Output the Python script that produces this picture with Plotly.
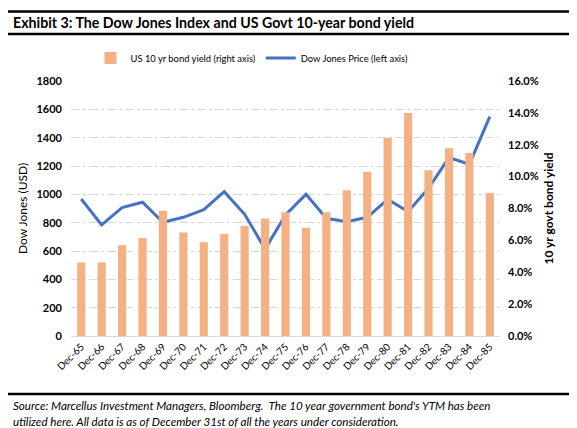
import plotly.graph_objects as go

categories = ["Dec-65", "Dec-66", "Dec-67", "Dec-68", "Dec-69", "Dec-70", "Dec-71",
              "Dec-72", "Dec-73", "Dec-74", "Dec-75", "Dec-76", "Dec-77", "Dec-78",
              "Dec-79", "Dec-80", "Dec-81", "Dec-82", "Dec-83", "Dec-84", "Dec-85"]
bond_yield = [0.0462, 0.0462, 0.0569, 0.0615, 0.0786, 0.0649, 0.0588,
              0.0640, 0.0690, 0.0738, 0.0776, 0.0680, 0.0776, 0.0914,
              0.1031, 0.1243, 0.1399, 0.1040, 0.1178, 0.1149, 0.0897]
dow_price = [967, 784, 906, 944, 803, 838, 892,
             1019, 859, 614, 854, 1000, 831, 807,
             838, 965, 878, 1043, 1259, 1212, 1549]

W, H = 577, 428
L, R, T, B = 63, 492, 73, 328
pw, ph = R - L, B - T


def px(x):
    return (x - L) / pw


def py(y):
    return (B - y) / ph


FONT = "Lato"

fig = go.Figure()
fig.add_trace(go.Bar(
    x=categories, y=bond_yield, name="US 10 yr bond yield (right axis)",
    marker=dict(color="#F4B183", line=dict(width=0)), yaxis="y2",
))
fig.add_trace(go.Scatter(
    x=categories, y=dow_price, name="Dow Jones Price (left axis)",
    mode="lines", line=dict(color="#4472C4", width=3), yaxis="y",
))

fig.update_layout(
    width=W, height=H,
    margin=dict(l=L, r=W - R, t=T, b=H - B, pad=0),
    paper_bgcolor="white", plot_bgcolor="white",
    font=dict(family=FONT, size=11, color="black"),
    bargap=0.6,
    showlegend=True,
    legend=dict(orientation="h", x=px(244), xanchor="center", y=py(50), yanchor="middle",
                font=dict(family=FONT, size=9.4), traceorder="normal",
                itemwidth=30, bgcolor="rgba(0,0,0,0)"),
    xaxis=dict(type="category", tickangle=-45, tickfont=dict(family=FONT, size=10),
               showgrid=False, showline=True, linecolor="#D9D9D9", linewidth=1,
               ticks="", zeroline=False),
    yaxis=dict(range=[0, 1800], dtick=200, tickfont=dict(family=FONT, size=11, weight="bold"),
               showgrid=True, gridcolor="#D9D9D9", griddash="dashdot", gridwidth=1,
               zeroline=False, showline=False, ticks="", ticklabelstandoff=8,
               title=dict(text="Dow Jones (USD)", font=dict(family=FONT, size=12), standoff=6)),
    yaxis2=dict(range=[0, 0.16], dtick=0.02, tickformat=".1%", overlaying="y", side="right",
                tickfont=dict(family=FONT, size=11, weight="bold"),
                showgrid=False, zeroline=False, showline=False, ticks="", ticklabelstandoff=7,
                title=dict(text="10 yr govt bond yield", font=dict(family=FONT, size=12, weight="bold"),
                           standoff=6)),
)

# decorative rules
for y0, w in [(3.5, 2.5), (26, 2.5), (386, 2.5)]:
    fig.add_shape(type="line", xref="paper", yref="paper",
                  x0=px(0), x1=px(W), y0=py(y0), y1=py(y0),
                  line=dict(color="black", width=w))

fig.add_annotation(text="<b>Exhibit 3: The Dow Jones Index and US Govt 10-year bond yield</b>",
                   xref="paper", yref="paper", x=px(3), y=py(15), xanchor="left", yanchor="middle",
                   showarrow=False, font=dict(family=FONT, size=14.2, color="black"))
fig.add_annotation(text="<i>Source: Marcellus Investment Managers, Bloomberg.  The 10 year government bond's YTM has been</i>",
                   xref="paper", yref="paper", x=px(3), y=py(397), xanchor="left", yanchor="middle",
                   showarrow=False, font=dict(family=FONT, size=11.6, color="black"))
fig.add_annotation(text="<i>utilized here. All data is as of December 31st of all the years under consideration.</i>",
                   xref="paper", yref="paper", x=px(3), y=py(413), xanchor="left", yanchor="middle",
                   showarrow=False, font=dict(family=FONT, size=11.6, color="black"))

fig.write_html("out.html")
